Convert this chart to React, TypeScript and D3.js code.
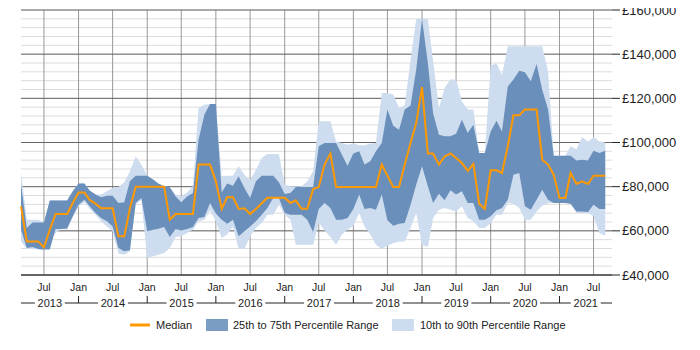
import React from "react";
import * as d3 from "d3";

// monthly points, Mar 2013 .. Sep 2021 (values in £k)
const firstMonth = new Date(2013, 2, 1);

const median = [
  71.1, 55.2, 55.2, 55.2, 52.5, 60.5, 67.6, 67.6, 67.6, 72.6, 77.4, 77.4, 74, 72.3, 70.2, 70.2, 70.2, 57.5, 57.5, 70.2,
  80, 80, 80, 80, 80, 80, 65, 67.6, 67.6, 67.6, 67.6, 90, 90, 90, 82.4, 69.9, 75.2, 75.2, 69.9, 70.2,
  67.6, 69.9, 72.5, 75, 75, 75, 75, 72.6, 73.8, 70, 70, 78.9, 79.8, 90, 95, 79.8, 79.8, 79.8, 79.8, 79.8,
  79.8, 79.8, 79.8, 90, 85, 79.8, 79.8, 90, 99.8, 108.8, 125.1, 95, 95, 90, 93.7, 95, 93, 90.7, 87.2, 90.3,
  72.3, 69.9, 87.4, 87.4, 86.2, 98.3, 112.3, 112.3, 114.9, 114.9, 114.9, 92.2, 90, 85.4, 74.9, 74.9, 86.2, 81.2, 82.4, 81.2,
  85, 85, 85,
];

const p75 = [
  81, 61.3, 63.8, 63.8, 63.8, 73.7, 73.7, 73.7, 73.7, 77.9, 81.4, 81.4, 78.3, 76.4, 75.2, 75.9, 75.9, 72.6, 72.9, 82.4,
  85, 85, 85, 83.2, 81.4, 80.2, 79.7, 75.6, 72.9, 75.6, 77.1, 101.3, 112.6, 117.4, 117.4, 77.4, 81.4, 80.4, 84.7, 79.4,
  74.9, 82.4, 85, 85, 85, 82, 76.7, 77.1, 79.8, 79.8, 79.8, 79.8, 98.3, 99.8, 99.8, 99.8, 94.5, 89.5, 95, 96,
  90, 91.5, 96, 99.8, 114.9, 107.6, 105.8, 114.9, 116.7, 133, 155.9, 136, 113.1, 103.5, 102.8, 102.8, 104, 110.3, 104.3, 108,
  95.2, 95.2, 105, 109.8, 105, 125.4, 128.5, 132.5, 131.8, 127.7, 135.6, 123.9, 114.9, 94, 94, 94, 94, 91.9, 92.2, 91.8,
  96.3, 95.2, 96.3,
];

const p25 = [
  60.5, 52.2, 52.7, 51.8, 51.5, 51.5, 60.8, 60.8, 61.1, 66.6, 71.8, 74.1, 71.1, 68.1, 65.8, 64.3, 62, 52.2, 50.7, 51.2,
  72.6, 74.9, 59.8, 60.5, 61, 61.7, 57.2, 60.8, 60.2, 60.8, 61.7, 65.8, 66.3, 72.6, 67.8, 65, 63.2, 65, 57.5, 59.8,
  62, 64.3, 67.3, 70.3, 74.9, 74.9, 68.1, 67.3, 67.3, 67.3, 65, 59.5, 69.9, 72.6, 70.3, 65, 65, 65.8, 69.9, 76.4,
  69.9, 70.3, 69.6, 76.4, 64.8, 62.3, 63.2, 63.5, 71.8, 80.9, 89.2, 80.2, 72.6, 76.8, 73.8, 78.4, 76.4, 77.9, 72.6, 72.6,
  65, 65, 66.6, 69.3, 70.3, 74.1, 85.4, 86.2, 71.1, 69.6, 74.1, 78.6, 74.1, 72.6, 72.6, 72.6, 72.3, 68.7, 68.7, 68.5,
  71.8, 69.9, 69.9,
];

const p90 = [
  86.2, 65, 65, 65, 63.8, 73.7, 73.7, 73.7, 73.7, 77.9, 81.4, 81.4, 78.3, 76.4, 76.4, 77.9, 79.4, 79.8, 82, 87,
  93.7, 90, 85, 83.2, 81.4, 80.2, 79.7, 76.4, 75.6, 77.4, 80.2, 115.6, 117.1, 117.4, 117.4, 84.7, 85, 85, 89.2, 85.4,
  82.9, 87.7, 93, 94.8, 94.8, 94.8, 80.9, 80.2, 80.2, 80.2, 82.4, 87, 109.6, 109.6, 109.6, 100.5, 99.8, 99, 99.5, 98.7,
  98.7, 99.5, 99.8, 122.4, 122.4, 121.7, 115.6, 116.7, 137.5, 155.9, 155.9, 155.9, 136.8, 115.6, 124.7, 128.5, 128.5, 118.6, 114.9, 114.9,
  95.2, 95.2, 134.8, 136, 130.4, 143.6, 143.6, 143.6, 143.6, 143.6, 143.6, 143.6, 132.2, 94, 94, 94, 98.3, 97, 102.5, 100.5,
  102.5, 100.5, 100,
];

const p10 = [
  55.2, 51.8, 51.8, 51.5, 51.2, 56.3, 59, 60.8, 60.5, 66, 71, 73, 70, 67.3, 64.3, 62, 59.8, 49.7, 49.2, 50.7,
  72, 74, 47.7, 48.5, 49.2, 50, 52.2, 57.2, 57.5, 59, 60.5, 64.3, 65, 69.3, 64.3, 56.8, 58.3, 62, 51.8, 51.8,
  57.5, 61.3, 63.5, 67.3, 67.3, 71.8, 67.3, 65, 53.7, 53.7, 53.7, 53.7, 63.8, 60.2, 57.2, 53.7, 58.3, 60.5, 62.3, 68.1,
  62, 58.3, 53.7, 51.8, 53.3, 54.5, 55.2, 55.2, 61.3, 68.1, 53.7, 52.7, 65.8, 69.5, 70.3, 69.6, 68.8, 71.1, 65.8, 64.3,
  61.3, 61.3, 63.5, 67.3, 67.3, 72.6, 72.3, 70.3, 65, 65, 68.8, 71.4, 72.6, 72.6, 72.6, 72.6, 72.3, 68.1, 68.1, 68.1,
  66.6, 59, 57.8,
];

const yTicks = [40000, 60000, 80000, 100000, 120000, 140000, 160000];
const years = [2013, 2014, 2015, 2016, 2017, 2018, 2019, 2020, 2021];

const left = 21;
const right = 612;
const top = 10;
const bottom = 275;

const App = () => {
  const dates = median.map((_, i) => d3.timeMonth.offset(firstMonth, i));
  const rows = dates.map((d, i) => ({
    date: d,
    med: median[i] * 1000,
    lo25: p25[i] * 1000,
    hi75: p75[i] * 1000,
    lo10: p10[i] * 1000,
    hi90: p90[i] * 1000,
  }));

  const x = d3
    .scaleTime()
    .domain([firstMonth, new Date(2021, 9, 7)])
    .range([left, right]);
  const y = d3.scaleLinear().domain([40000, 160000]).range([bottom, top]);

  const outer = d3
    .area<any>()
    .x((d) => x(d.date))
    .y0((d) => y(d.lo10))
    .y1((d) => y(d.hi90));
  const inner = d3
    .area<any>()
    .x((d) => x(d.date))
    .y0((d) => y(d.lo25))
    .y1((d) => y(d.hi75));
  const line = d3
    .line<any>()
    .x((d) => x(d.date))
    .y((d) => y(d.med));

  const minor = d3.range(40000, 160001, 4000);
  const months = d3
    .timeMonth.range(new Date(2013, 6, 1), new Date(2021, 9, 1))
    .filter((d) => d.getMonth() === 0 || d.getMonth() === 6);
  const fmt = d3.format(",");

  return (
    <svg width={700} height={350} style={{ display: "block", margin: "-8px" }}>
      <rect width={700} height={350} fill="#fff" />
      {minor.map((v) => (
        <line key={"m" + v} x1={left} x2={right} y1={y(v)} y2={y(v)} stroke="#dcdcdc" strokeWidth={1} />
      ))}
      {months.map((d) => (
        <line key={"v" + d.getTime()} x1={x(d)} x2={x(d)} y1={top} y2={bottom} stroke="#999" strokeWidth={1} />
      ))}
      {yTicks.map((v) => (
        <line key={"g" + v} x1={left} x2={right} y1={y(v)} y2={y(v)} stroke="#666" strokeWidth={1} />
      ))}

      <path d={outer(rows) || ""} fill="#cddcee" />
      <path d={inner(rows) || ""} fill="#6a8fba" />
      <path d={line(rows) || ""} fill="none" stroke="#f90" strokeWidth={2} />

      <line x1={left} x2={right} y1={bottom} y2={bottom} stroke="#222" strokeWidth={1} />
      {yTicks.map((v) => (
        <g key={"t" + v}>
          <line x1={right} x2={620} y1={y(v)} y2={y(v)} stroke="#222" />
          <text x={622} y={y(v)} dy="0.35em" fontFamily="Arial, 'Liberation Sans'" fontSize={13} fill="#222">
            £{fmt(v)}
          </text>
        </g>
      ))}
      {months.map((d) => (
        <text
          key={"l" + d.getTime()}
          x={x(d)}
          y={287}
          dy="0.35em"
          textAnchor="middle"
          fontFamily="Arial, 'Liberation Sans'"
          fontSize={10.5}
          fill="#222"
        >
          {d.getMonth() === 0 ? "Jan" : "Jul"}
        </text>
      ))}

      <line x1={left} x2={right} y1={303} y2={303} stroke="#222" />
      {years.map((yr) => {
        const a = Math.max(left, x(new Date(yr, 0, 1)));
        const b = Math.min(right, x(new Date(yr + 1, 0, 1)));
        const mid = (a + b) / 2;
        return (
          <g key={"y" + yr}>
            {yr > 2013 && <line x1={a} x2={a} y1={296} y2={303} stroke="#222" />}
            <rect x={mid - 15} y={296} width={30} height={14} fill="#fff" />
            <text
              x={mid}
              y={303}
              dy="0.35em"
              textAnchor="middle"
              fontFamily="Arial, 'Liberation Sans'"
              fontSize={11}
              fill="#222"
            >
              {yr}
            </text>
          </g>
        );
      })}

      <g fontFamily="Arial, 'Liberation Sans'" fontSize={11} fill="#222">
        <line x1={130} x2={150} y1={325} y2={325} stroke="#f90" strokeWidth={3} />
        <text x={156} y={325} dy="0.35em">Median</text>
        <rect x={206} y={319} width={22} height={12} fill="#7a9cc2" />
        <text x={233} y={325} dy="0.35em">25th to 75th Percentile Range</text>
        <rect x={392} y={319} width={22} height={12} fill="#cddcee" />
        <text x={420} y={325} dy="0.35em">10th to 90th Percentile Range</text>
      </g>
    </svg>
  );
};

export default App;
